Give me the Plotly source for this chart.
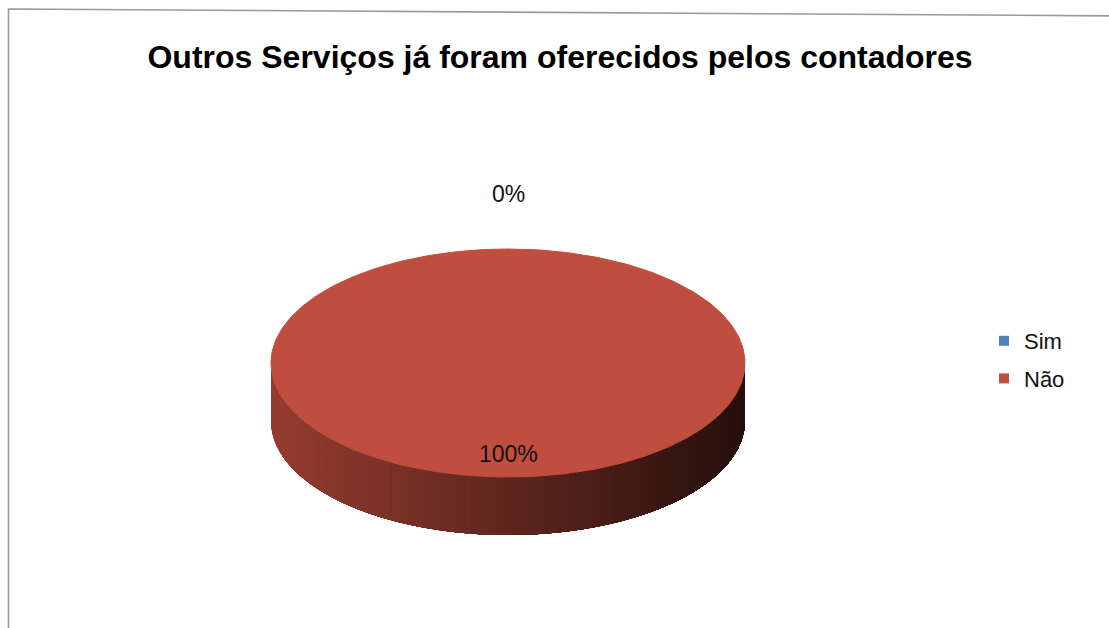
import numpy as np
import plotly.graph_objects as go

# Survey answers (percent of respondents)
labels = ["Sim", "Não"]
values = [0, 100]
colors = ["#4F81BD", "#C04E3E"]
title_text = "Outros Serviços já foram oferecidos pelos contadores"

W, H = 1109, 628

# 3-D pie geometry (pixel-space axes)
cx, cy = 508, 363
rx, ry = 237, 114
depth = 58
start_deg = 0.0  # first slice starts at 12 o'clock, clockwise


def hex_rgb(h):
    h = h.lstrip("#")
    return tuple(int(h[i:i + 2], 16) for i in (0, 2, 4))


def shade(hexcol, f):
    r, g, b = hex_rgb(hexcol)
    return f"rgb({int(r * f)},{int(g * f)},{int(b * f)})"


def rim(theta, dy=0.0):
    return cx + rx * np.sin(theta), cy - ry * np.cos(theta) + dy


fig = go.Figure()

total = float(sum(values))
angles = []
a0 = np.deg2rad(start_deg)
for v in values:
    span = 2 * np.pi * v / total
    angles.append((a0, a0 + span))
    a0 += span

# outer walls of the front half, shaded from the lit left side to the dark
# right side; each band runs to the far end of the wall so that the next
# band overlaps it and no seams show between them
front_lo, front_hi = np.pi / 2, 3 * np.pi / 2
for (t0, t1), col, v in zip(angles, colors, values):
    if v <= 0:
        continue
    # walk the visible wall from the left (3π/2) towards the right (π/2)
    lo, hi = max(t0, front_lo), min(t1, front_hi)
    if hi <= lo:
        continue
    edges = np.linspace(hi, lo, 121)
    for s0 in edges[:-1]:
        th = np.linspace(s0, lo, 200)
        xt, yt = rim(th)
        xb, yb = rim(th[::-1], depth)
        f = 0.20 + 0.58 * (1 - np.sin(s0)) / 2
        c = shade(col, f)
        fig.add_trace(go.Scatter(
            x=np.r_[xt, xb], y=np.r_[yt, yb], fill="toself", mode="lines",
            fillcolor=c, line=dict(width=0),
            hoverinfo="skip", showlegend=False))

# top faces
for (t0, t1), col, lab, v in zip(angles, colors, labels, values):
    if v <= 0:
        continue
    th = np.linspace(t0, t1, 361)
    xs, ys = rim(th)
    if v < total:
        xs, ys = np.r_[cx, xs, cx], np.r_[cy, ys, cy]
    fig.add_trace(go.Scatter(
        x=xs, y=ys, fill="toself", mode="lines", fillcolor=col,
        line=dict(color=col, width=1), name=lab, hoverinfo="name",
        showlegend=False))

# legend entries
for i, (lab, col) in enumerate(zip(labels, colors)):
    fig.add_trace(go.Scatter(
        x=[None], y=[None], mode="markers", name=lab, legendgroup=f"g{i}",
        marker=dict(symbol="square", size=10, color=col)))

# percentage labels at slice mid-angles
for (t0, t1), v in zip(angles, values):
    mid = 0.5 * (t0 + t1)
    pct = f"{round(100 * v / total)}%"
    k = 0.8 if v > 0 else 1.48
    x, y = rim(mid)
    x = cx + (x - cx) * k
    y = cy + (y - cy) * k
    fig.add_annotation(x=x, y=y, text=pct, showarrow=False,
                       font=dict(family="Liberation Sans, Arial", size=23,
                                 color="#111111"))

# outer chart frame
fig.add_shape(type="path", xref="x", yref="y",
              path="M 8.5,700 L 8.5,9 L 1130,16",
              line=dict(color="#9a9a9a", width=1.6))

fig.update_layout(
    width=W, height=H,
    margin=dict(l=0, r=0, t=0, b=0),
    paper_bgcolor="white", plot_bgcolor="white",
    title=dict(text=f"<b>{title_text}</b>", x=0.505, xanchor="center",
               y=1 - 57 / H, yanchor="middle",
               font=dict(family="Liberation Sans, Arial", size=32,
                         color="#000000")),
    xaxis=dict(range=[0, W], visible=False, fixedrange=True),
    yaxis=dict(range=[H, 0], visible=False, fixedrange=True),
    legend=dict(x=984 / W, y=1 - 320 / H, xanchor="left", yanchor="top",
                font=dict(family="Liberation Sans, Arial", size=22,
                          color="#111111"),
                tracegroupgap=6, bgcolor="rgba(0,0,0,0)"),
    showlegend=True,
)

fig.write_html("out.html")
